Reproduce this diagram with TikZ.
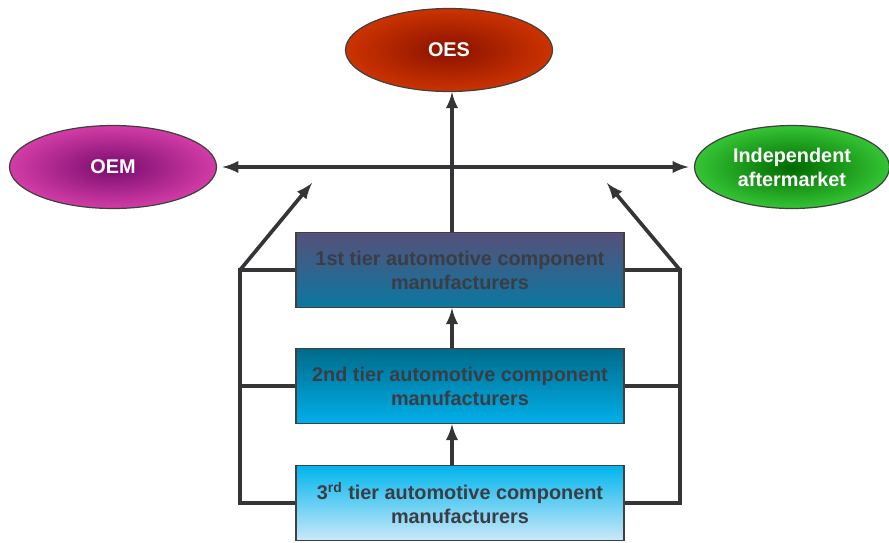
\documentclass[tikz,border=0pt]{standalone}
\usepackage{fontspec}
\setmainfont{Liberation Sans}
\usetikzlibrary{shapes.geometric}

\definecolor{linegray}{HTML}{353538}
\definecolor{textgray}{HTML}{3C3C44}
\definecolor{oesin}{HTML}{8A1200}
\definecolor{oesout}{HTML}{CC3300}
\definecolor{oemin}{HTML}{780C6E}
\definecolor{oemout}{HTML}{D33CA6}
\definecolor{indin}{HTML}{006A00}
\definecolor{indout}{HTML}{35C535}
\definecolor{tieronetop}{HTML}{56507A}
\definecolor{tieronebot}{HTML}{0A78A0}
\definecolor{tiertwotop}{HTML}{006A8A}
\definecolor{tiertwobot}{HTML}{00B0EA}
\definecolor{tierthreetop}{HTML}{00B5EC}
\definecolor{tierthreebot}{HTML}{CBE9F9}

\begin{document}
\begin{tikzpicture}[x=0.02cm, y=-0.02cm,
    market/.style={ellipse, draw=black!75, line width=0.7pt, inner sep=0pt,
        minimum width=4.14cm, minimum height=1.66cm, align=center, text=white,
        font=\bfseries\fontsize{11.3}{13.6}\selectfont},
    tierbox/.style={draw=black!75, line width=0.7pt, minimum width=6.56cm,
        minimum height=1.5cm, align=center, text=textgray,
        font=\bfseries\fontsize{11.3}{13.6}\selectfont},
    link/.style={draw=linegray, line width=2.1pt}]
    \useasboundingbox (0,0) rectangle (889,542);

    % Markets
    \node[market, inner color=oesin, outer color=oesout] (oes) at (449,50) {OES};
    \node[market, inner color=oemin, outer color=oemout] (oem) at (113,167) {OEM};
    \node[market, inner color=indin, outer color=indout, minimum width=3.9cm]
        (ind) at (792,167) {Independent\\aftermarket};

    % Supplier tiers
    \node[tierbox, top color=tieronetop, bottom color=tieronebot] (tier1) at (460,270)
        {1st tier automotive component\\manufacturers};
    \node[tierbox, top color=tiertwotop, bottom color=tiertwobot] (tier2) at (460,386)
        {2nd tier automotive component\\manufacturers};
    \node[tierbox, top color=tierthreetop, bottom color=tierthreebot] (tier3) at (460,503)
        {3\textsuperscript{rd} tier automotive component\\manufacturers};

    % Flows between tiers and to OES
    \coordinate (spine) at (452,0);
    \draw[link, -latex] (tier3.north -| spine) -- (tier2.south -| spine);
    \draw[link, -latex] (tier2.north -| spine) -- (tier1.south -| spine);
    \draw[link, -latex] (tier1.north -| spine) -- (spine |- oes.south);
    \draw[link, latex-latex, shorten <=3pt, shorten >=3pt] (oem.east) -- (ind.west);

    % Left bracket
    \coordinate (lt) at (240,270);
    \coordinate (ltip) at (312,183);
    \draw[link] (tier1.west) -- (lt) -- (lt |- tier3.west) -- (tier3.west);
    \draw[link] (tier2.west) -- (tier2.west -| lt);
    \draw[link, -latex] (lt) -- (ltip);

    % Right bracket
    \coordinate (rt) at (680,270);
    \coordinate (rtip) at (607,183);
    \draw[link] (tier1.east) -- (rt) -- (rt |- tier3.east) -- (tier3.east);
    \draw[link] (tier2.east) -- (tier2.east -| rt);
    \draw[link, -latex] (rt) -- (rtip);
\end{tikzpicture}
\end{document}
